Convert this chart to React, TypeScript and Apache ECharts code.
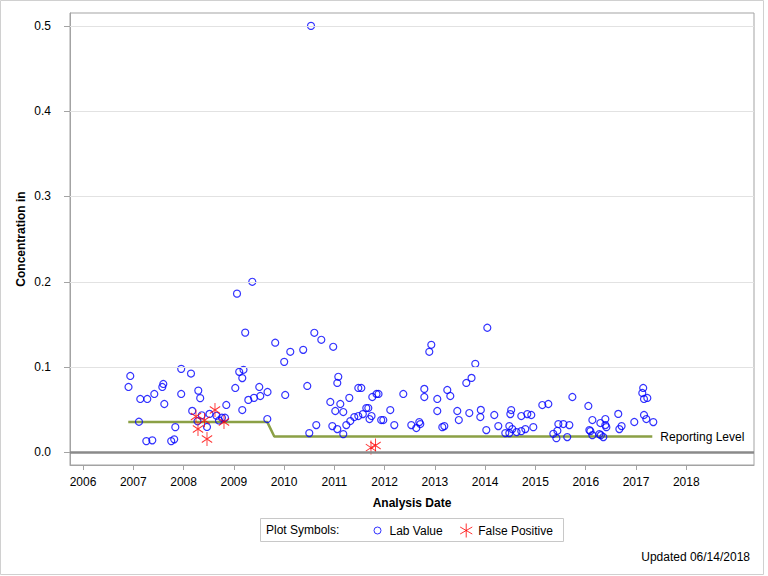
import React, { useEffect, useRef } from 'react';
import * as echarts from 'echarts';

const labDates = [
  2006.905, 2006.940, 2007.113, 2007.139, 2007.259, 2007.278, 2007.378, 2007.418, 2007.577, 2007.597,
  2007.617, 2007.754, 2007.814, 2007.836, 2007.953, 2007.953, 2008.148, 2008.172, 2008.277, 2008.293,
  2008.331, 2008.363, 2008.466, 2008.516, 2008.655, 2008.705, 2008.764, 2008.824, 2008.850, 2009.029,
  2009.063, 2009.107, 2009.168, 2009.168, 2009.192, 2009.226, 2009.288, 2009.367, 2009.401, 2009.506,
  2009.526, 2009.666, 2009.670, 2009.823, 2010.002, 2010.022, 2010.123, 2010.380, 2010.461, 2010.501,
  2010.535, 2010.601, 2010.640, 2010.740, 2010.919, 2010.959, 2010.977, 2011.018, 2011.058, 2011.058,
  2011.078, 2011.118, 2011.177, 2011.177, 2011.237, 2011.297, 2011.317, 2011.396, 2011.476, 2011.476,
  2011.536, 2011.566, 2011.635, 2011.675, 2011.699, 2011.739, 2011.754, 2011.838, 2011.878, 2011.931,
  2011.973, 2012.112, 2012.192, 2012.371, 2012.530, 2012.630, 2012.689, 2012.709, 2012.789, 2012.789,
  2012.888, 2012.928, 2013.047, 2013.047, 2013.147, 2013.187, 2013.246, 2013.306, 2013.445, 2013.475,
  2013.624, 2013.684, 2013.728, 2013.803, 2013.913, 2013.903, 2014.022, 2014.042, 2014.181, 2014.261,
  2014.400, 2014.480, 2014.480, 2014.500, 2014.517, 2014.539, 2014.623, 2014.718, 2014.718, 2014.798,
  2014.838, 2014.917, 2014.957, 2015.136, 2015.256, 2015.355, 2015.416, 2015.436, 2015.455, 2015.555,
  2015.632, 2015.674, 2015.734, 2016.052, 2016.072, 2016.092, 2016.132, 2016.132, 2016.271, 2016.291,
  2016.301, 2016.350, 2016.390, 2016.390, 2016.410, 2016.647, 2016.669, 2016.713, 2016.966, 2017.125,
  2017.143, 2017.159, 2017.225, 2017.159, 2017.205, 2017.344,
];
const labValues = [
  0.0767, 0.0896, 0.0359, 0.0626, 0.0132, 0.0626, 0.0141, 0.0685, 0.0767, 0.0802,
  0.0567, 0.0132, 0.0153, 0.0296, 0.0979, 0.0685, 0.0924, 0.0486, 0.0365, 0.0724,
  0.0636, 0.0435, 0.0298, 0.0451, 0.0429, 0.0374, 0.0406, 0.0406, 0.0556, 0.0755,
  0.1861, 0.0944, 0.0871, 0.0496, 0.0968, 0.1404, 0.0615, 0.2, 0.0639, 0.0767,
  0.0661, 0.0391, 0.0708, 0.1286, 0.1061, 0.0673, 0.1179, 0.1202, 0.0779, 0.0226,
  0.5, 0.1402, 0.032, 0.132, 0.0591, 0.0308, 0.1238, 0.0485, 0.0273, 0.0814,
  0.0886, 0.0567, 0.0473, 0.0214, 0.032, 0.0639, 0.0367, 0.0414, 0.0426, 0.0755,
  0.0755, 0.0449, 0.052, 0.052, 0.0391, 0.0426, 0.0649, 0.0685, 0.0685, 0.0379,
  0.0379, 0.0496, 0.032, 0.0685, 0.032, 0.0285, 0.0355, 0.0332, 0.0744, 0.0649,
  0.1179, 0.1261, 0.0626, 0.0485, 0.0296, 0.0308, 0.0732, 0.0661, 0.0485, 0.0379,
  0.0814, 0.0461, 0.0873, 0.1038, 0.0498, 0.0414, 0.0261, 0.1461, 0.0438, 0.0308,
  0.0226, 0.0308, 0.0226, 0.0449, 0.0496, 0.0273, 0.0238, 0.0249, 0.0426, 0.0273,
  0.0449, 0.0438, 0.0296, 0.0555, 0.0567, 0.0218, 0.0167, 0.0253, 0.0332, 0.0332,
  0.0179, 0.032, 0.0649, 0.0544, 0.0261, 0.0249, 0.0379, 0.0202, 0.0214, 0.0344,
  0.0202, 0.0179, 0.0391, 0.032, 0.0296, 0.0451, 0.0273, 0.0308, 0.0356, 0.0696,
  0.0755, 0.0626, 0.0638, 0.0438, 0.0391, 0.0355,
];

const fpDates = [2008.247, 2008.416, 2008.287, 2008.466, 2008.625, 2008.804, 2011.728, 2011.818];
const fpValues = [0.0421, 0.0376, 0.0274, 0.0156, 0.0496, 0.0356, 0.0056, 0.008];

const reportDates = [2006.90, 2009.666, 2009.805, 2017.324];
const reportLevels = [0.0355, 0.0355, 0.0186, 0.0186];

const yearTicks = [2006, 2007, 2008, 2009, 2010, 2011, 2012, 2013, 2014, 2015, 2016, 2017, 2018];
const yTicks = [0, 0.1, 0.2, 0.3, 0.4, 0.5];
const gridValues = [0.1, 0.2, 0.3, 0.4, 0.5];

const X_MIN = 2005.741;
const X_MAX = 2019.347;
const Y_MIN = -0.0148;
const Y_MAX = 0.5151;

const FONT = '"Liberation Sans", Arial, sans-serif';
const AXIS_GRAY = '#a3a3a3';
const GREEN = '#8ba045';
const STAR = 'path://M0,-7L0,7M-6.06,-3.5L6.06,3.5M-6.06,3.5L6.06,-3.5';
const CIRCLE_ICON = 'path://M0,0M14,14M10.5,7A3.5,3.5,0,1,1,3.5,7A3.5,3.5,0,1,1,10.5,7Z';

export default function App() {
  const ref = useRef<HTMLDivElement>(null);
  useEffect(() => {
    const chart = echarts.init(ref.current!, null, { renderer: 'svg' });
    chart.setOption({
      animation: false,
      backgroundColor: '#ffffff',
      textStyle: { fontFamily: FONT },
      grid: {
        left: 70, top: 13, right: 14, bottom: 111,
        show: true, borderColor: AXIS_GRAY, borderWidth: 1, backgroundColor: 'transparent',
      },
      xAxis: {
        type: 'value', min: X_MIN, max: X_MAX,
        name: 'Analysis Date', nameLocation: 'middle', nameGap: 32,
        nameTextStyle: { fontWeight: 'bold', fontSize: 12, color: '#000', fontFamily: FONT },
        axisLine: { show: true, onZero: false, lineStyle: { color: AXIS_GRAY } },
        axisTick: { show: true, length: 5, customValues: yearTicks, lineStyle: { color: AXIS_GRAY } },
        axisLabel: {
          customValues: yearTicks, color: '#000', fontSize: 12, margin: 11, fontFamily: FONT,
          formatter: (v: number) => String(Math.round(v)),
        },
        splitLine: { show: false },
      },
      yAxis: {
        type: 'value', min: Y_MIN, max: Y_MAX,
        name: 'Concentration in', nameLocation: 'middle', nameGap: 43, nameMoveOverlap: false,
        nameTextStyle: { fontWeight: 'bold', fontSize: 12, color: '#000', fontFamily: FONT },
        axisLine: { show: true, onZero: false, lineStyle: { color: AXIS_GRAY } },
        axisTick: { show: true, length: 6, customValues: yTicks, lineStyle: { color: AXIS_GRAY } },
        axisLabel: {
          customValues: yTicks, color: '#000', fontSize: 12, margin: 19, fontFamily: FONT,
          formatter: (v: number) => v.toFixed(1),
        },
        splitLine: { show: false },
      },
      legend: {
        left: 370, top: 523, padding: 0, itemWidth: 14, itemHeight: 14, itemGap: 17,
        selectedMode: false,
        textStyle: { fontSize: 12, color: '#000', fontFamily: FONT },
        itemStyle: { borderWidth: 1 },
        data: [
          { name: 'Lab Value', icon: CIRCLE_ICON },
          { name: 'False Positive', icon: STAR },
        ],
      },
      graphic: [
        {
          type: 'rect', silent: true, z: -10,
          shape: { x: 0.5, y: 0.5, width: 763, height: 574 },
          style: { fill: 'none', stroke: '#d0d0d0', lineWidth: 1 },
        },
        {
          type: 'rect', silent: true,
          shape: { x: 260.5, y: 518.5, width: 303, height: 23 },
          style: { fill: 'none', stroke: '#c8c8c8', lineWidth: 1 },
        },
        {
          type: 'text', silent: true, x: 266, y: 530,
          style: { text: 'Plot Symbols:', fill: '#000', fontSize: 12, fontFamily: FONT, align: 'left', verticalAlign: 'middle' },
        },
        {
          type: 'text', silent: true, x: 750, y: 557,
          style: { text: 'Updated 06/14/2018', fill: '#000', fontSize: 12, fontFamily: FONT, align: 'right', verticalAlign: 'middle' },
        },
      ],
      series: [
        {
          type: 'line', name: 'Reporting Level', z: 1, silent: true,
          data: reportDates.map((d, i) => [d, reportLevels[i]]),
          showSymbol: false, symbol: 'none',
          lineStyle: { color: GREEN, width: 2.5 },
          endLabel: { show: true, formatter: 'Reporting Level', color: '#000', fontSize: 12, fontFamily: FONT, distance: 8 },
          markLine: {
            silent: true, symbol: ['none', 'none'], label: { show: false },
            lineStyle: { color: '#e2e2e2', width: 1, type: 'solid' },
            data: [
              ...gridValues.map((v) => ({ yAxis: v })),
              { yAxis: 0, lineStyle: { color: '#8a8a8a', width: 2.5, type: 'solid' } },
            ],
          },
        },
        {
          type: 'scatter', name: 'Lab Value', z: 3,
          data: labDates.map((d, i) => [d, labValues[i]]),
          symbol: 'circle', symbolSize: 7,
          itemStyle: { color: 'rgba(0,0,0,0)', borderColor: '#0000ff', borderWidth: 1.2 },
        },
        {
          type: 'scatter', name: 'False Positive', z: 4,
          data: fpDates.map((d, i) => [d, fpValues[i]]),
          symbol: STAR, symbolSize: [12, 14], symbolKeepAspect: true,
          itemStyle: { color: 'rgba(0,0,0,0)', borderColor: '#ff0000', borderWidth: 1 },
        },
      ],
    });
    return () => chart.dispose();
  }, []);
  return (
    <div
      ref={ref}
      style={{ position: 'absolute', left: 0, top: 0, width: 768, height: 576, background: '#fff' }}
    />
  );
}
